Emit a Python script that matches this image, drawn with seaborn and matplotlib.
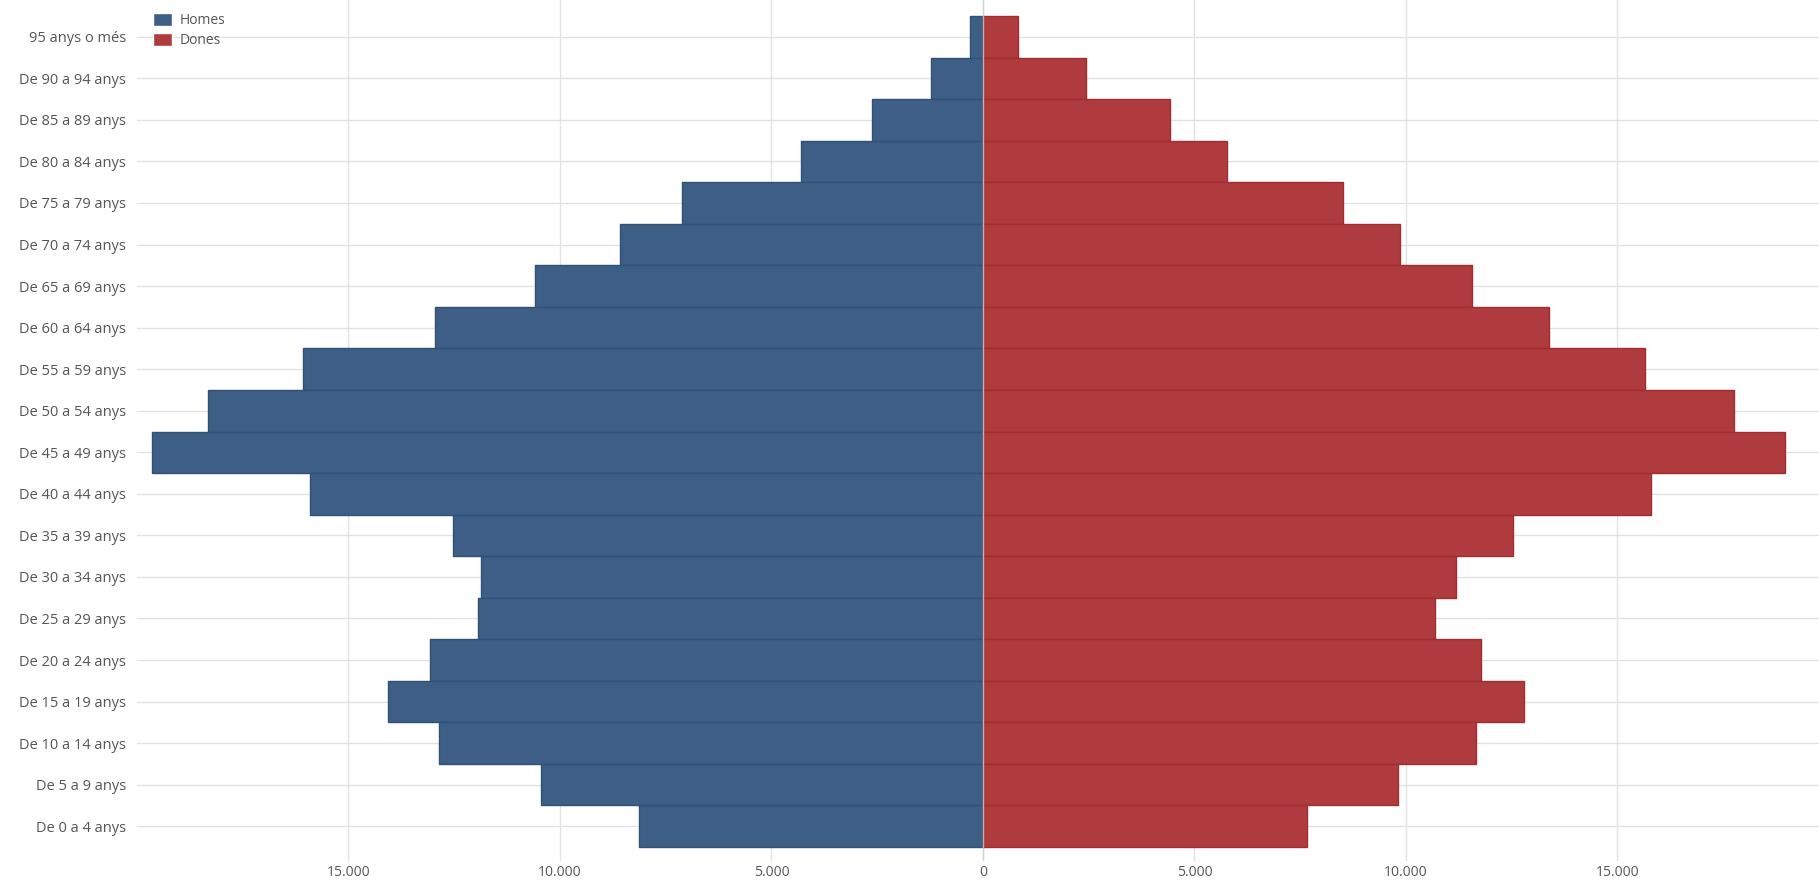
import numpy as np
import pandas as pd
import seaborn as sns
import matplotlib.pyplot as plt
from matplotlib.ticker import FuncFormatter, FixedLocator

# Grups d'edat (de dalt a baix)
edats = ["95 anys o més", "De 90 a 94 anys", "De 85 a 89 anys", "De 80 a 84 anys",
         "De 75 a 79 anys", "De 70 a 74 anys", "De 65 a 69 anys", "De 60 a 64 anys",
         "De 55 a 59 anys", "De 50 a 54 anys", "De 45 a 49 anys", "De 40 a 44 anys",
         "De 35 a 39 anys", "De 30 a 34 anys", "De 25 a 29 anys", "De 20 a 24 anys",
         "De 15 a 19 anys", "De 10 a 14 anys", "De 5 a 9 anys", "De 0 a 4 anys"]

homes = [300, 1240, 2630, 4310, 7110, 8570, 10600, 12960,
         16070, 18330, 19650, 15900, 12520, 11870, 11950, 13070,
         14060, 12850, 10450, 8130]

dones = [820, 2440, 4420, 5770, 8510, 9860, 11560, 13370,
         15650, 17750, 18950, 15800, 12520, 11180, 10690, 11770,
         12790, 11650, 9800, 7660]

x_ticks = [-15000, -10000, -5000, 0, 5000, 10000, 15000]

sexes = ["Homes", "Dones"]
colors = {"Homes": "#3d5f86", "Dones": "#b03b3e"}
edges = {"Homes": "#30507a", "Dones": "#a02e31"}

df = pd.DataFrame({
    "edat": edats * 2,
    "sexe": ["Homes"] * len(edats) + ["Dones"] * len(edats),
    "valor": [-v for v in homes] + dones,
})

sns.set_theme(style="white")
plt.rcParams['font.family'] = ['Open Sans', 'DejaVu Sans']

fig = plt.figure(figsize=(18.19, 8.85), dpi=100)
ax = fig.add_axes([137 / 1819, 24 / 885, 1682 / 1819, 861 / 885])

sns.barplot(data=df, y="edat", x="valor", hue="sexe", order=edats, hue_order=sexes,
            palette=colors, dodge=False, width=1.0, saturation=1, ax=ax, zorder=2,
            legend=True)

for cont, s in zip(ax.containers, sexes):
    for p in cont:
        p.set_edgecolor(edges[s])
        p.set_linewidth(1.0)

ax.set_xlim(-20000, 19764)
ax.set_ylim(19.5 + 14 / 41.55, -0.5 - 16 / 41.55)
ax.xaxis.set_major_locator(FixedLocator(x_ticks))
ax.xaxis.set_major_formatter(FuncFormatter(lambda x, p: f"{abs(int(round(x))):,}".replace(",", ".")))

ax.grid(True, color="#e2e2e2", linewidth=1.0, zorder=0)
ax.set_axisbelow(True)
ax.axvline(0, color="#d0d0d0", linewidth=1.0, alpha=0.8, zorder=3)

for sp in ax.spines.values():
    sp.set_visible(False)

ax.set_xlabel("")
ax.set_ylabel("")
ax.tick_params(axis="y", length=0, pad=8, labelsize=10.5, labelcolor="#555555")
ax.tick_params(axis="x", length=0, pad=3, labelsize=10, labelcolor="#555555")

ax.legend(loc="upper left", bbox_to_anchor=(146 / 1819, 1 - 6 / 885),
          bbox_transform=fig.transFigure, frameon=False, fontsize=10,
          handlelength=1.4, handleheight=1.1, handletextpad=0.5,
          labelspacing=0.3, borderpad=0, labelcolor="#555555")

fig.savefig("out.png", dpi=100)
